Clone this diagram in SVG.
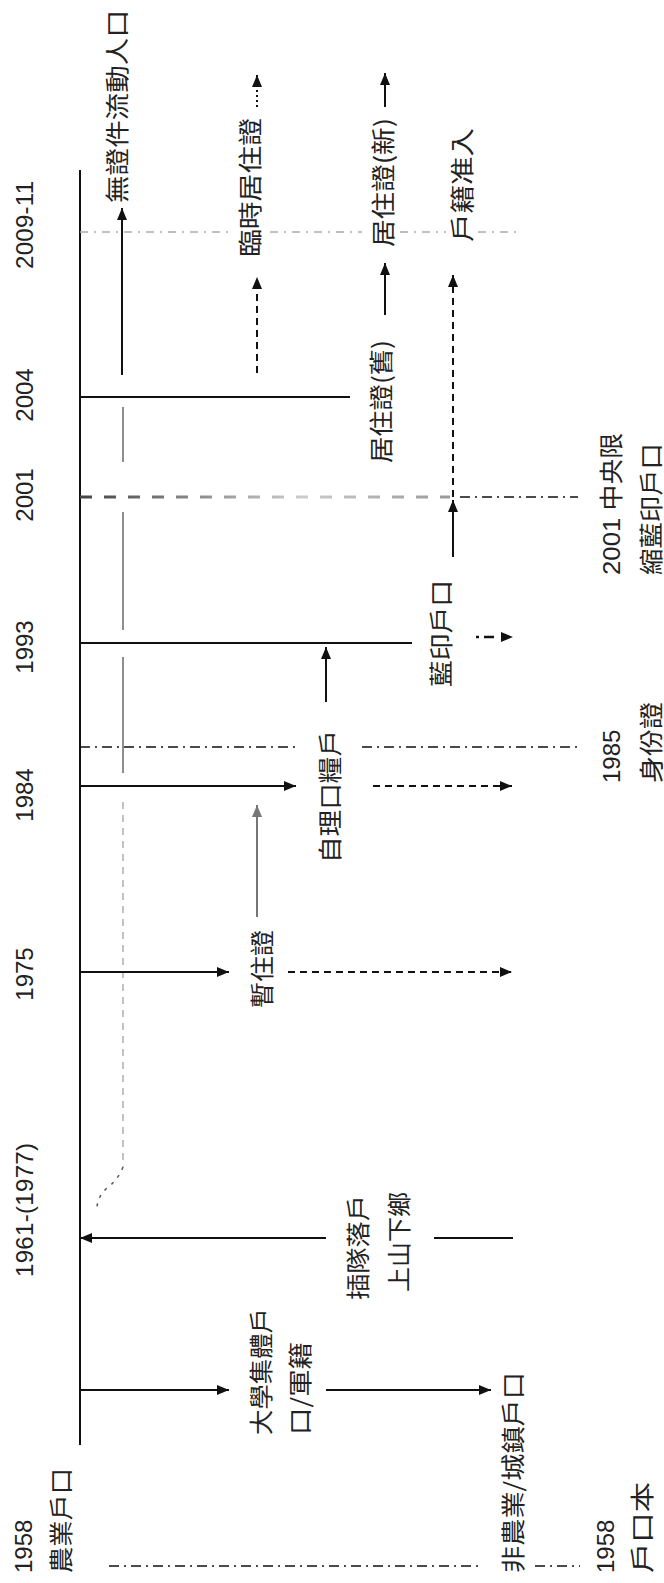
<svg xmlns="http://www.w3.org/2000/svg" width="664" height="1583" viewBox="0 0 664 1583">
<style>
.yr{font-family:"Liberation Sans","Noto Sans CJK TC",sans-serif;font-size:24px;fill:#222;text-anchor:middle}
.yl{font-family:"Liberation Sans","Noto Sans CJK TC",sans-serif;font-size:24px;fill:#222}
.cj{font-family:"Noto Sans CJK TC","Noto Sans CJK SC",sans-serif;font-size:24px;fill:#222}
.mx{font-family:"Liberation Sans","Noto Sans CJK TC",sans-serif;font-size:24px;fill:#222}
.ln{stroke:#111;stroke-width:2;fill:none}
.ar{stroke:#111;stroke-width:2;fill:none;marker-end:url(#ah)}
.da{stroke:#111;stroke-width:2;fill:none;stroke-dasharray:7 5;marker-end:url(#ah)}
.dd{stroke:#111;stroke-width:1.3;fill:none;stroke-dasharray:10 5 2 5}
.th{stroke:#444;stroke-width:1.2;fill:none}
</style>
<defs>
<marker id="ah" viewBox="0 0 12 10" refX="12" refY="5" markerWidth="12" markerHeight="10" markerUnits="userSpaceOnUse" orient="auto">
<path d="M0,0 L12,5 L0,10 z" fill="#111"/>
</marker>
<marker id="ahg" viewBox="0 0 12 10" refX="12" refY="5" markerWidth="12" markerHeight="10" markerUnits="userSpaceOnUse" orient="auto">
<path d="M0,0 L12,5 L0,10 z" fill="#777"/>
</marker>
<linearGradient id="fade" gradientUnits="userSpaceOnUse" x1="80" y1="0" x2="450" y2="0">
<stop offset="0" stop-color="#444"/>
<stop offset="0.6" stop-color="#ccc"/>
<stop offset="1" stop-color="#999"/>
</linearGradient>
</defs>

<g id="connectors">
<line class="ln" x1="80" y1="170" x2="80" y2="1445"/>
<!-- 2009-11 gray dash-dot -->
<g stroke="#aaa" stroke-width="1.5" stroke-dasharray="8 6 2 6" fill="none">
<line x1="80" y1="232" x2="232" y2="232"/>
<line x1="270" y1="232" x2="362" y2="232"/>
<line x1="400" y1="232" x2="446" y2="232"/>
<line x1="478" y1="232" x2="516" y2="232"/>
</g>
<!-- 2001 dash-dot -->
<line x1="80" y1="497" x2="450" y2="497" stroke="url(#fade)" stroke-width="3" stroke-dasharray="12 12"/>
<line class="dd" x1="460" y1="497" x2="578" y2="497" stroke-dasharray="14 5 2 5"/>
<!-- 1985 dash-dot -->
<line class="dd" x1="80" y1="747" x2="299" y2="747"/>
<line class="dd" x1="362" y1="747" x2="580" y2="747"/>
<!-- 1958 dash-dot -->
<line class="dd" x1="109" y1="1566" x2="480" y2="1566"/>
<line class="dd" x1="535" y1="1566" x2="580" y2="1566"/>

<!-- thin vertical line -->
<line class="th" x1="123" y1="407" x2="123" y2="462"/>
<line class="th" x1="123" y1="512" x2="123" y2="630"/>
<line class="th" x1="123" y1="657" x2="123" y2="773"/>
<path d="M123,802 L123,1167" stroke="#999" stroke-width="1.2" stroke-dasharray="7 6" fill="none"/>
<path d="M123,1167 Q118,1180 107,1188 Q98,1196 97,1207" stroke="#555" stroke-width="1.5" stroke-dasharray="3 6" fill="none"/>

<!-- 2009-11 / top arrows -->
<line class="ar" x1="122" y1="375" x2="122" y2="208"/>
<line x1="257" y1="107" x2="257" y2="75" stroke="#111" stroke-width="2" stroke-dasharray="2 3" marker-end="url(#ah)"/>
<line class="da" x1="257" y1="373" x2="257" y2="277"/>
<line class="ar" x1="385" y1="107" x2="385" y2="73"/>
<line class="ar" x1="385" y1="315" x2="385" y2="263"/>
<line class="da" x1="453" y1="497" x2="453" y2="275" stroke-width="2.5" stroke-dasharray="8 5"/>
<line class="ar" x1="453" y1="557" x2="453" y2="500"/>

<!-- 2004 -->
<line class="ln" x1="80" y1="397" x2="350" y2="397"/>
<!-- 1993 -->
<line class="ln" x1="80" y1="643" x2="412" y2="643"/>
<line x1="476" y1="637" x2="513" y2="637" stroke="#111" stroke-width="2.5" stroke-dasharray="3 5 10 30" marker-end="url(#ah)"/>
<line class="ar" x1="326" y1="702" x2="326" y2="647"/>
<!-- 1984 -->
<line class="ar" x1="80" y1="786" x2="296" y2="786"/>
<line class="da" x1="373" y1="786" x2="512" y2="786"/>
<line x1="257" y1="917" x2="257" y2="805" stroke="#777" stroke-width="2" marker-end="url(#ahg)"/>
<!-- 1975 -->
<line class="ar" x1="80" y1="972" x2="229" y2="972" stroke="#333"/>
<line class="da" x1="288" y1="972" x2="512" y2="972"/>
<!-- 1961 -->
<line class="ar" x1="326" y1="1238" x2="80" y2="1238"/>
<line class="ln" x1="434" y1="1238" x2="513" y2="1238"/>
<!-- 1958 collective -->
<line class="ar" x1="80" y1="1390" x2="229" y2="1390"/>
<line class="ar" x1="326" y1="1390" x2="491" y2="1390"/>
</g>

<g id="years">
<text class="yr" transform="translate(33,225) rotate(-90)" textLength="88">2009-11</text>
<text class="yr" transform="translate(33,395) rotate(-90)">2004</text>
<text class="yr" transform="translate(33,495) rotate(-90)">2001</text>
<text class="yr" transform="translate(33,647) rotate(-90)">1993</text>
<text class="yr" transform="translate(33,795) rotate(-90)">1984</text>
<text class="yr" transform="translate(33,974) rotate(-90)">1975</text>
<text class="yr" transform="translate(33,1210) rotate(-90)" textLength="134">1961-(1977)</text>
</g>

<g id="n-1958-rural">
<text class="yl" transform="translate(32,1573) rotate(-90)">1958</text>
<text class="cj" transform="translate(70,1573) rotate(-90)" textLength="105" lengthAdjust="spacingAndGlyphs">農業戶口</text>
</g>
<g id="n-1958-book">
<text class="yl" transform="translate(614,1573) rotate(-90)">1958</text>
<text class="cj" transform="translate(651,1573) rotate(-90)" textLength="91" lengthAdjust="spacingAndGlyphs">戶口本</text>
</g>
<g id="n-urban">
<text class="cj" transform="translate(522,1573) rotate(-90)" textLength="201" lengthAdjust="spacingAndGlyphs">非農業/城鎮戶口</text>
</g>
<g id="n-collective">
<text class="cj" transform="translate(270,1435) rotate(-90)" textLength="127" lengthAdjust="spacingAndGlyphs">大學集體戶</text>
<text class="cj" transform="translate(309,1435) rotate(-90)" textLength="93" lengthAdjust="spacingAndGlyphs">口/軍籍</text>
</g>
<g id="n-rusticate">
<text class="cj" transform="translate(367,1300) rotate(-90)" textLength="105" lengthAdjust="spacingAndGlyphs">插隊落戶</text>
<text class="cj" transform="translate(408,1292) rotate(-90)" textLength="100" lengthAdjust="spacingAndGlyphs">上山下鄉</text>
</g>
<g id="n-temp">
<text class="cj" transform="translate(271,1008) rotate(-90)" textLength="78" lengthAdjust="spacingAndGlyphs">暫住證</text>
</g>
<g id="n-selfgrain">
<text class="cj" transform="translate(339,863) rotate(-90)" textLength="133" lengthAdjust="spacingAndGlyphs">自理口糧戶</text>
</g>
<g id="n-idcard">
<text class="yl" transform="translate(620,783) rotate(-90)">1985</text>
<text class="cj" transform="translate(660,783) rotate(-90)" textLength="81" lengthAdjust="spacingAndGlyphs">身份證</text>
</g>
<g id="n-blue">
<text class="cj" transform="translate(450,687) rotate(-90)" textLength="107" lengthAdjust="spacingAndGlyphs">藍印戶口</text>
</g>
<g id="n-2001">
<text class="mx" transform="translate(620,575) rotate(-90)" textLength="142" lengthAdjust="spacingAndGlyphs">2001 中央限</text>
<text class="cj" transform="translate(660,575) rotate(-90)" textLength="132" lengthAdjust="spacingAndGlyphs">縮藍印戶口</text>
</g>
<g id="n-resold">
<text class="cj" transform="translate(390,463) rotate(-90)" textLength="123" lengthAdjust="spacingAndGlyphs">居住證(舊)</text>
</g>
<g id="n-undoc">
<text class="cj" transform="translate(126,203) rotate(-90)" textLength="193" lengthAdjust="spacingAndGlyphs">無證件流動人口</text>
</g>
<g id="n-tempres">
<text class="cj" transform="translate(259,257) rotate(-90)" textLength="139" lengthAdjust="spacingAndGlyphs">臨時居住證</text>
</g>
<g id="n-resnew">
<text class="cj" transform="translate(392,247) rotate(-90)" textLength="129" lengthAdjust="spacingAndGlyphs">居住證(新)</text>
</g>
<g id="n-hukou">
<text class="cj" transform="translate(471,242) rotate(-90)" textLength="114" lengthAdjust="spacingAndGlyphs">戶籍准入</text>
</g>
</svg>
